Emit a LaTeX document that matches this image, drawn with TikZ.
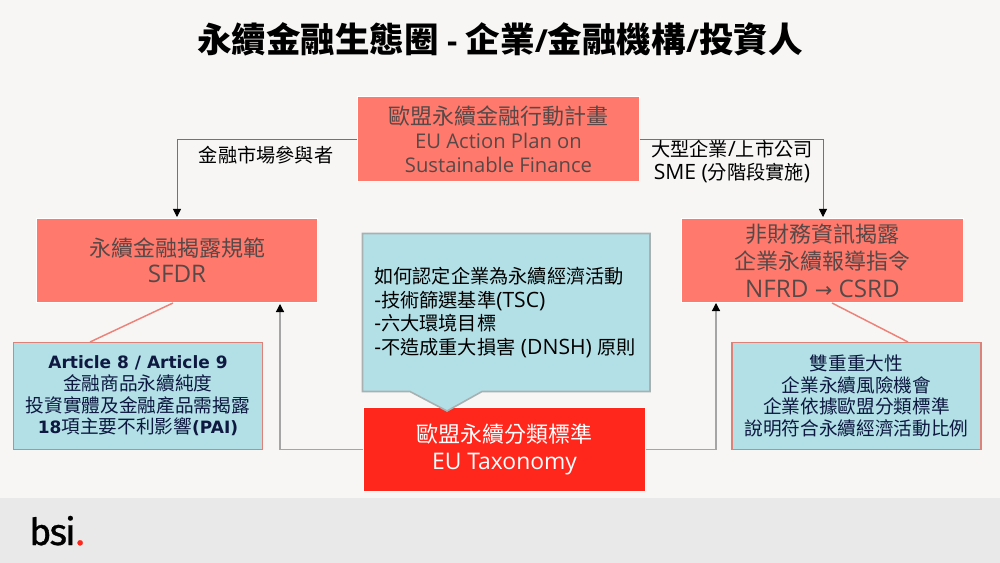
\documentclass[tikz,border=0pt]{standalone}
\usepackage{fontspec}
\setmainfont[Scale=0.92]{Open Sans}
\newfontfamily\cjk{Noto Sans CJK TC}
\newfontfamily\vrd[Scale=0.91]{DejaVu Sans}
\newfontfamily\arrowfont[Scale=0.95]{DejaVu Sans}
\newfontfamily\latbig[Scale=1.1]{Open Sans}
\newfontfamily\logofont[LetterSpace=-5,FakeBold=0.8]{Fira Sans}
\usetikzlibrary{positioning,arrows.meta}
\definecolor{pagebg}{RGB}{247,246,245}
\definecolor{footbg}{RGB}{233,233,233}
\definecolor{salmon}{RGB}{255,122,108}
\definecolor{salmontxt}{RGB}{88,72,72}
\definecolor{paleblue}{RGB}{178,224,230}
\definecolor{navytxt}{RGB}{14,24,64}
\definecolor{taxred}{RGB}{255,38,28}
\definecolor{linkgrey}{RGB}{165,165,165}
\definecolor{pinkline}{RGB}{236,130,120}
\tikzset{
  mainbox/.style={fill=salmon,draw=white,line width=0.6pt,text=salmontxt,align=center,inner sep=0pt,minimum width=211pt,minimum height=63.5pt,font=\fontsize{16.5}{18}\selectfont},
  notebox/.style={fill=paleblue,draw=pinkline!85!gray,line width=1.2pt,text=navytxt,align=center,inner sep=0pt,minimum width=186.5pt,minimum height=80.5pt,font=\fontsize{14}{16.3}\selectfont},
  link/.style={draw=linkgrey,line width=0.9pt},
  linkarrow/.style={link,-{Triangle[length=6pt,width=6pt,color=black]}},
  toparrow/.style={linkarrow,draw=linkgrey!70!black,line width=0.6pt},
  tie/.style={draw=pinkline,line width=1.1pt},
  caption/.style={text=black,align=center,inner sep=0pt,font=\fontsize{14.4}{17.4}\selectfont},
}
\begin{document}
\begin{tikzpicture}[x=0.75pt,y=0.75pt,yscale=-1]
\useasboundingbox (0,0) rectangle (1000,563);
\fill[pagebg] (0,0) rectangle (1000,563);
\fill[footbg] (0,498) rectangle (1000,563);

% title
\node (title) [inner sep=0pt,font=\fontsize{25.9}{28}\selectfont\bfseries] at (500,39) {{\cjk 永續金融生態圈} - {\cjk 企業}/{\cjk 金融機構}/{\cjk 投資人}};

% main boxes
\node (plan) [mainbox] at (498.5,139) {{\cjk 歐盟永續金融行動計畫}\\EU Action Plan on\\Sustainable Finance};
\node (sfdr) [mainbox,font=\fontsize{16.5}{19.4}\selectfont] at (177,260.5) {{\cjk 永續金融揭露規範}\\{\latbig SFDR}};
\node (nfrd) [mainbox,font=\fontsize{16.5}{20.6}\selectfont] at (822.5,260.5) {{\cjk 非財務資訊揭露}\\{\cjk 企業永續報導指令}\\{\latbig NFRD {\arrowfont →} CSRD}};
\node (tax) [mainbox,fill=taxred,text=white,font=\fontsize{16.5}{20}\selectfont] at (504.5,449.5) {{\cjk 歐盟永續分類標準}\\{\fontsize{15.6}{18}\latbig EU Taxonomy}};

% notes
\node (art) [notebox] at (138,396) {{\vrd\bfseries Article 8 / Article 9}\\{\cjk 金融商品永續純度}\\{\cjk 投資實體及金融產品需揭露}\\{\vrd\bfseries 18}{\cjk 項主要不利影響}{\vrd\bfseries (PAI)}};
\node (dbl) [notebox] at (856.5,396) {{\cjk 雙重重大性}\\{\cjk 企業永續風險機會}\\{\cjk 企業依據歐盟分類標準}\\{\cjk 說明符合永續經濟活動比例}};

% callout
\draw [fill=paleblue,draw=linkgrey!80!paleblue,line width=1.2pt] (362.5,233.5) -- (650,233.5) -- (650,391.5) -- (482,391.5) -- (447,411) -- (410,391.5) -- (362.5,391.5) -- cycle;
\node (how) [caption,anchor=west,align=left,font=\fontsize{14.4}{17.8}\selectfont\latbig] at (374,312.5) {{\cjk 如何認定企業為永續經濟活動}\\-{\cjk 技術篩選基準}(TSC)\\-{\cjk 六大環境目標}\\-{\cjk 不造成重大損害} (DNSH) {\cjk 原則}};

% links
\coordinate (planL) at (plan.west);
\coordinate (planR) at (plan.east);
\coordinate (sfdrIn) at (177,217);
\coordinate (nfrdIn) at (823,217);
\coordinate (taxL) at (tax.west);
\coordinate (taxR) at (tax.east);
\coordinate (sfdrUp) at (280,304);
\coordinate (nfrdUp) at (716,303);
\draw [toparrow] (planL) -| (sfdrIn);
\draw [toparrow] (planR) -| (nfrdIn);
\draw [linkarrow] (taxL) -| (sfdrUp);
\draw [linkarrow] (taxR) -| (nfrdUp);
\draw [tie] (173,303) -- (90,342);
\draw [tie] (832,303) -- (908,342);

% labels
\node (lblL) [caption] at (266,155) {\cjk 金融市場參與者};
\node (lblR) [caption,font=\fontsize{14.4}{17.4}\selectfont\latbig] at (732,161.5) {{\cjk 大型企業}/{\cjk 上市公司}\\SME ({\cjk 分階段實施})};

% logo
\node (logo) [inner sep=0pt,anchor=base west,font=\fontsize{28}{30}\logofont] at (29,545) {bsi\textcolor{taxred}{.}};
\end{tikzpicture}
\end{document}
